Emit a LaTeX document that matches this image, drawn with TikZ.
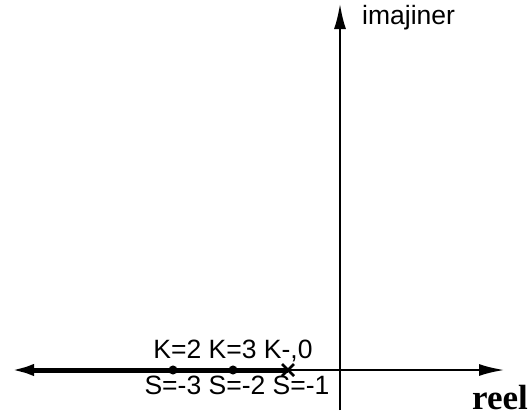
\documentclass[tikz,border=0pt]{standalone}
\usepackage{fontspec}
\setmainfont{Liberation Sans}
\newfontfamily\reelfont{Liberation Serif}
\usetikzlibrary{arrows.meta,calc,positioning}

\begin{document}
\begin{tikzpicture}[x=1pt,y=-1pt,
  every node/.style={font=\fontsize{26.5}{28}\selectfont,inner sep=0pt},
  axis/.style={line width=2.8pt},
  locus/.style={line width=5pt},
  pole/.style={circle,fill=black,inner sep=3.2pt},
  tip/.style={-{Latex[length=26pt,width=12pt]}}]
  \path[use as bounding box] (0,0) rectangle (528,418);
  % axes
  \coordinate (O) at (340,370);
  \coordinate (xL) at (8,370);
  \coordinate (xR) at (505,370);
  \coordinate (yT) at (340,3);
  \coordinate (yB) at (340,410);
  \coordinate (s1) at (288,370);
  \draw[axis,tip] (O) -- (xR);
  \draw[locus,tip] (s1) -- (xL);
  \draw[axis] (s1) -- (O);
  \draw[axis,tip] (yB) -- (yT);
  % poles on the real axis
  \node[pole] (s3) at (173,370) {};
  \node[pole] (s2) at (233,370) {};
  \draw[line width=2.8pt] ($(s1)+(-6,-6)$) -- ($(s1)+(6,6)$)
    ($(s1)+(-6,6)$) -- ($(s1)+(6,-6)$);
  % labels
  \node[anchor=west] (im) at (362,18) {imajiner};
  \node[anchor=base east,font=\fontsize{35}{36}\selectfont\reelfont\bfseries] (re) at (528,409) {reel};
  \node[anchor=south] (k) at (233,362) {K=2 K=3 K-,0};
  \node[anchor=north] (s) at (237,376) {S=-3 S=-2 S=-1};
\end{tikzpicture}
\end{document}
